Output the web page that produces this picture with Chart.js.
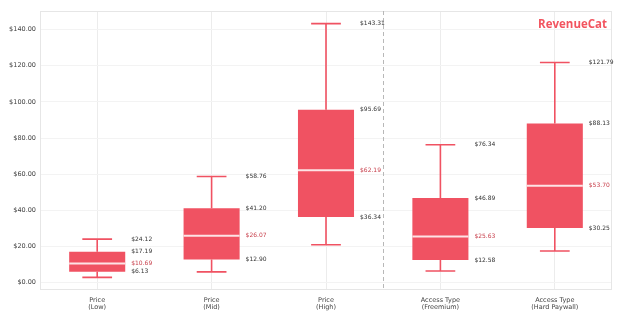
<!DOCTYPE html>
<html>
<head>
<meta charset="utf-8">
<script src="https://cdn.jsdelivr.net/npm/chart.js@4"></script>
<style>
  body { margin: 0; background: #fff; }
  #wrap { width: 628px; height: 325px; }
</style>
</head>
<body>
<div id="wrap"><canvas id="myChart" width="628" height="325"></canvas></div>
<script>
// price distribution per segment
const groups = ['Price\n(Low)', 'Price\n(Mid)', 'Price\n(High)', 'Access Type\n(Freemium)', 'Access Type\n(Hard Paywall)'];
const whiskerLow = [3.0, 6.0, 21.0, 6.5, 17.6];
const q1 = [6.13, 12.90, 36.34, 12.58, 30.25];
const median = [10.69, 26.07, 62.19, 25.63, 53.70];
const q3 = [17.19, 41.20, 95.69, 46.89, 88.13];
const whiskerHigh = [24.12, 58.76, 143.31, 76.34, 121.79];
const yTicks = [0, 20, 40, 60, 80, 100, 120, 140];

const red = '#f05262';
const money = v => '$' + v.toFixed(2);

const boxBits = {
  id: 'boxBits',
  beforeDatasetsDraw(chart) {
    const ctx = chart.ctx;
    const x = chart.scales.x, y = chart.scales.y;
    const area = chart.chartArea;
    ctx.save();
    // frame round the plot
    ctx.strokeStyle = '#e6e6e6';
    ctx.lineWidth = 1;
    ctx.strokeRect(area.left + 0.5, area.top + 0.5, area.right - area.left - 1, area.bottom - area.top - 1);
    // whiskers and caps
    ctx.strokeStyle = red;
    ctx.lineWidth = 1.6;
    const capHalf = x.width / groups.length * 0.13;
    for (let i = 0; i < groups.length; i++) {
      const cx = x.getPixelForValue(i);
      const lo = y.getPixelForValue(whiskerLow[i]);
      const hi = y.getPixelForValue(whiskerHigh[i]);
      ctx.beginPath();
      ctx.moveTo(cx, y.getPixelForValue(q1[i])); ctx.lineTo(cx, lo);
      ctx.moveTo(cx, y.getPixelForValue(q3[i])); ctx.lineTo(cx, hi);
      ctx.moveTo(cx - capHalf, lo); ctx.lineTo(cx + capHalf, lo);
      ctx.moveTo(cx - capHalf, hi); ctx.lineTo(cx + capHalf, hi);
      ctx.stroke();
    }
    // divider between price tiers and access types
    const dx = Math.round((x.getPixelForValue(2) + x.getPixelForValue(3)) / 2) + 0.5;
    ctx.strokeStyle = '#b8b8b8';
    ctx.lineWidth = 1;
    ctx.setLineDash([4, 3]);
    ctx.beginPath();
    ctx.moveTo(dx, area.top); ctx.lineTo(dx, area.bottom);
    ctx.stroke();
    ctx.restore();
  },
  afterDatasetsDraw(chart) {
    const ctx = chart.ctx;
    const x = chart.scales.x, y = chart.scales.y;
    const boxHalf = x.width / groups.length * 0.245;
    ctx.save();
    for (let i = 0; i < groups.length; i++) {
      const cx = x.getPixelForValue(i);
      const my = y.getPixelForValue(median[i]);
      ctx.strokeStyle = '#fde3e5';
      ctx.lineWidth = 2;
      ctx.beginPath();
      ctx.moveTo(cx - boxHalf, my); ctx.lineTo(cx + boxHalf, my);
      ctx.stroke();

      ctx.font = '6px "DejaVu Sans"';
      ctx.textAlign = 'left';
      ctx.textBaseline = 'middle';
      const lx = cx + 34;
      ctx.fillStyle = '#333';
      [whiskerHigh[i], q3[i], q1[i]].forEach(v => ctx.fillText(money(v), lx, y.getPixelForValue(v)));
      ctx.fillStyle = '#c8404c';
      ctx.fillText(money(median[i]), lx, my);
    }
    // brand mark
    const area = chart.chartArea;
    ctx.font = 'bold 11.5px "Open Sans"';
    ctx.fillStyle = '#f2545f';
    ctx.textAlign = 'right';
    ctx.textBaseline = 'middle';
    ctx.fillText('RevenueCat', area.right - 5, 25);
    ctx.restore();
  }
};

new Chart(document.getElementById('myChart'), {
  type: 'bar',
  data: {
    labels: groups.map(g => g.split('\n')),
    datasets: [{
      data: q1.map((v, i) => [v, q3[i]]),
      backgroundColor: red,
      borderWidth: 0,
      borderSkipped: false,
      categoryPercentage: 1,
      barPercentage: 0.49
    }]
  },
  options: {
    responsive: false,
    animation: false,
    layout: { padding: { top: 11, right: 16, left: 0, bottom: 0 } },
    plugins: { legend: { display: false }, tooltip: { enabled: false } },
    scales: {
      x: {
        offset: true,
        grid: { offset: false, color: '#ececec', drawTicks: false },
        border: { display: false },
        ticks: { color: '#444', font: { family: 'DejaVu Sans', size: 6.5, lineHeight: 1.2 }, padding: 6, maxRotation: 0 },
        afterFit(s) { s.height = 35; }
      },
      y: {
        min: -4,
        max: 150.3,
        grid: { color: '#f3f3f3', drawTicks: false },
        border: { display: false },
        afterBuildTicks(s) { s.ticks = yTicks.map(v => ({ value: v })); },
        ticks: { color: '#444', font: { family: 'DejaVu Sans', size: 6.5 }, padding: 4, callback: v => money(v) },
        afterFit(s) { s.width = 40; }
      }
    }
  },
  plugins: [boxBits]
});
</script>
</body>
</html>
